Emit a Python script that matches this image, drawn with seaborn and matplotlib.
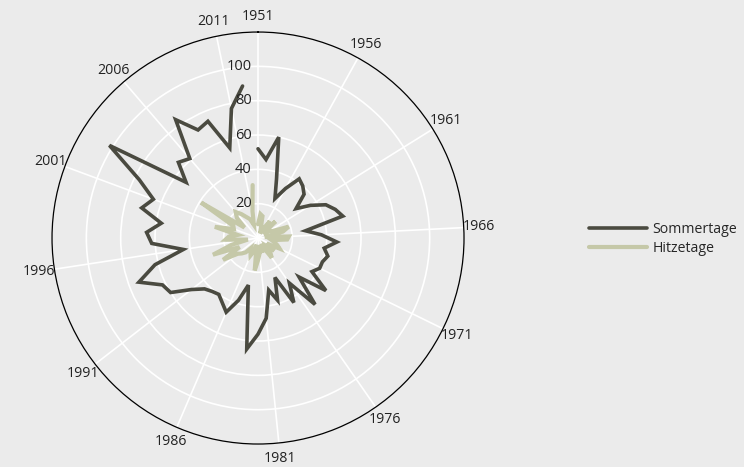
import numpy as np
import pandas as pd
import seaborn as sns
import matplotlib.pyplot as plt
from matplotlib.transforms import offset_copy

# Daten: Sommertage und Hitzetage pro Jahr, 1951-2012
jahre = list(range(1951, 2013))
sommertage = [52, 46, 60, 36, 25, 33, 42, 40, 37, 28,
              36, 44, 48, 51, 28, 37, 46, 39, 42, 40,
              40, 37, 50, 33, 51, 32, 43, 25, 38, 31,
              47, 56, 65, 28, 38, 47, 43, 40, 41, 43,
              49, 60, 62, 74, 62, 44, 62, 65, 57, 70,
              65, 77, 102, 53, 64, 61, 84, 72, 74, 55,
              77, 89]
hitzetage = [8, 14, 13, 5, 3, 6, 12, 7, 14, 4,
             8, 9, 19, 15, 4, 18, 17, 8, 10, 12,
             14, 6, 12, 7, 11, 14, 6, 4, 9, 5,
             9, 13, 19, 4, 8, 11, 9, 7, 11, 13,
             15, 24, 12, 28, 16, 6, 19, 17, 12, 26,
             15, 16, 39, 10, 17, 20, 17, 14, 12, 8,
             16, 31]
label_jahre = list(range(1951, 2012, 5))
ring_werte = [20, 40, 60, 80, 100]

bg = "#ebebeb"
farben = {"Sommertage": "#4a4a40", "Hitzetage": "#c5c8a8"}

sns.set_style("white", {"axes.facecolor": bg, "figure.facecolor": bg})
plt.rcParams["font.family"] = ["Open Sans", "DejaVu Sans"]

n = len(jahre)
winkel = lambda j: (j - jahre[0]) * 2 * np.pi / n

df = pd.DataFrame({
    "theta": [winkel(j) for j in jahre] * 2,
    "wert": sommertage + hitzetage,
    "reihe": ["Sommertage"] * n + ["Hitzetage"] * n,
})

fig = plt.figure(figsize=(7.44, 4.67), dpi=100)
ax = fig.add_axes([0.0699, 0.0492, 0.5538, 0.8822], projection="polar")
ax.set_facecolor(bg)
ax.set_theta_zero_location("N")
ax.set_theta_direction(-1)

sns.lineplot(data=df[df.reihe == "Sommertage"], x="theta", y="wert",
             color=farben["Sommertage"], linewidth=2.6, ax=ax,
             label="Sommertage", solid_joinstyle="miter")
sns.lineplot(data=df[df.reihe == "Hitzetage"], x="theta", y="wert",
             color=farben["Hitzetage"], linewidth=3.0, ax=ax,
             label="Hitzetage", solid_joinstyle="miter")

ax.set_ylim(0, 120)
ax.set_yticks(ring_werte)
ax.set_yticklabels([])
ax.set_xticks([winkel(j) for j in label_jahre])
ax.set_xticklabels([str(j) for j in label_jahre], fontsize=10.2, color="#222222")
ax.tick_params(axis="x", pad=0.5)
ax.set_xlabel("")
ax.set_ylabel("")
ax.grid(True, color="white", linewidth=1.2)
ax.spines["polar"].set_color("black")
ax.spines["polar"].set_linewidth(0.9)

# Ringbeschriftung links neben der senkrechten Achse
trans = offset_copy(ax.transData, fig=fig, x=-4.5, y=0, units="points")
for r in ring_werte:
    ax.text(0, r, str(r), transform=trans, ha="right", va="center",
            fontsize=10.5, color="#222222")

handles, labels = ax.get_legend_handles_labels()
ax.get_legend().remove()
leg = fig.legend(handles, labels, loc="center left", bbox_to_anchor=(0.774, 0.488),
                 frameon=False, fontsize=10.2, handlelength=4.1, handletextpad=0.4,
                 labelspacing=0.3)

fig.savefig("out.png", dpi=100, facecolor=bg)
